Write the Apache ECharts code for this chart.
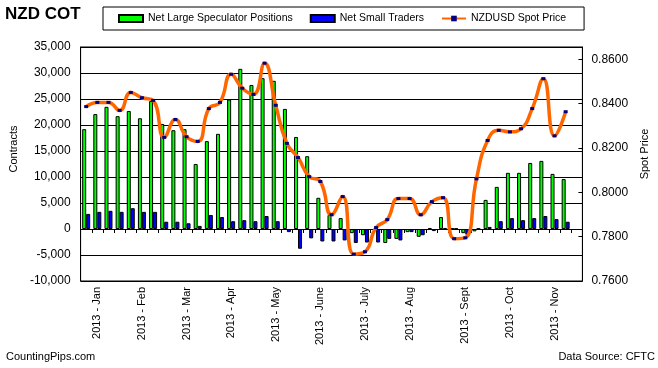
<!DOCTYPE html>
<html>
<head>
<meta charset="utf-8">
<script src="https://cdn.jsdelivr.net/npm/echarts@6/dist/echarts.min.js"></script>
<style>
html,body{margin:0;padding:0;background:#fff;}
#chart{width:658px;height:368px;}
</style>
</head>
<body>
<div id="chart"></div>
<script>
// Week categories (blank except where a month label is shown)
const weekLabels = [
  '', '2013 - Jan', '', '', '', '2013 - Feb', '', '', '', '2013 - Mar',
  '', '', '', '2013 - Apr', '', '', '', '2013 - May', '', '',
  '', '2013 - June', '', '', '', '2013 - July', '', '', '', '2013 - Aug',
  '', '', '', '', '2013 - Sept', '', '', '', '2013 - Oct', '',
  '', '', '2013 - Nov', '', ''
];
const largeSpec = [
  19200, 22100, 23500, 21700, 22700, 21300, 24600, 20200, 19000, 19200,
  12500, 16900, 18300, 24900, 30800, 27700, 29000, 28500, 23100, 17700,
  14000, 6000, 2700, 2100, -800, -1200, -200, -2700, -1900, -600,
  -1500, 200, 2300, 150, -800, -450, 5600, 8100, 10800, 10800,
  12700, 13100, 10600, 9600, null
];
const smallTraders = [
  2900, 3300, 3500, 3300, 4000, 3300, 3300, 1400, 1400, 1100,
  600, 2700, 2300, 1500, 1700, 1500, 2500, 1500, -600, -3800,
  -1800, -2400, -2400, -2200, -2700, -2600, -2600, -1900, -2200, -600,
  -1200, -400, 200, 100, -1100, 100, 400, 1500, 2100, 1700,
  2100, 2500, 1900, 1400, null
];
const spotPrice = [
  0.8387, 0.8406, 0.8406, 0.8370, 0.8451, 0.8427, 0.8415, 0.8248, 0.8329, 0.8251,
  0.8230, 0.8378, 0.8406, 0.8533, 0.8470, 0.8442, 0.8583, 0.8393, 0.8221, 0.8157,
  0.8071, 0.8049, 0.7899, 0.7981, 0.7721, 0.7732, 0.7841, 0.7877, 0.7972, 0.7972,
  0.7899, 0.7958, 0.7976, 0.7791, 0.7795, 0.8061, 0.8234, 0.8280, 0.8273, 0.8287,
  0.8378, 0.8513, 0.8255, 0.8364, null
];
const seriesNames = ['Net Large Speculator Positions', 'Net Small Traders', 'NZDUSD Spot Price'];

const FONT = "'Liberation Sans', Arial, sans-serif";
const chart = echarts.init(document.getElementById('chart'), null, {renderer: 'canvas'});
chart.setOption({
  animation: false,
  backgroundColor: '#fff',
  textStyle: {fontFamily: FONT, color: '#000'},
  title: [
    {text: 'NZD COT', left: 5, top: 6, padding: 0,
     textStyle: {fontFamily: FONT, fontSize: 17, fontWeight: 'bold', color: '#000'}},
    {text: 'CountingPips.com', left: 6, top: 351, padding: 0,
     textStyle: {fontFamily: FONT, fontSize: 11, fontWeight: 'normal', color: '#000'}},
    {text: 'Data Source: CFTC', right: 3, top: 351, padding: 0,
     textStyle: {fontFamily: FONT, fontSize: 11, fontWeight: 'normal', color: '#000'}}
  ],
  legend: {
    left: 103, top: 7,
    padding: [6, 18, 6, 15],
    itemGap: 17,
    itemWidth: 24, itemHeight: 7,
    borderColor: '#000', borderWidth: 1,
    selectedMode: false,
    textStyle: {fontFamily: FONT, fontSize: 10.5, color: '#000'},
    data: [
      {name: seriesNames[0], icon: 'rect'},
      {name: seriesNames[1], icon: 'rect'},
      {name: seriesNames[2]}
    ]
  },
  grid: {
    left: 63, right: 68, top: 47, bottom: 87,
    show: true, borderColor: '#000', borderWidth: 1, backgroundColor: 'transparent'
  },
  xAxis: [
    {
      type: 'category', data: weekLabels, position: 'bottom',
      axisLine: {onZero: true, lineStyle: {color: '#000', width: 1}},
      axisTick: {show: true, interval: 0, length: 4, lineStyle: {color: '#000'}},
      axisLabel: {show: false},
      splitLine: {show: false}
    },
    {
      type: 'category', data: weekLabels, position: 'bottom',
      axisLine: {show: false, onZero: false},
      axisTick: {show: false},
      axisLabel: {show: true, interval: 0, rotate: 90, margin: 6,
                  fontFamily: FONT, fontSize: 11, color: '#000'},
      splitLine: {show: false}
    }
  ],
  yAxis: [
    {
      type: 'value', position: 'left', min: -10000, max: 35000, interval: 5000,
      name: 'Contracts', nameLocation: 'middle', nameGap: 53, nameRotate: 90,
      nameTextStyle: {fontFamily: FONT, fontSize: 11, color: '#000', padding: [0, 0, 0, 30]},
      axisLine: {show: true, lineStyle: {color: '#000'}},
      axisTick: {show: false},
      axisLabel: {fontFamily: FONT, fontSize: 12, color: '#000', margin: 10},
      splitLine: {show: true, lineStyle: {color: '#000', width: 1}}
    },
    {
      type: 'value', position: 'right', min: 0.76, max: 0.8656, interval: 0.02,
      name: 'Spot Price', nameLocation: 'middle', nameGap: 56, nameRotate: 90,
      nameTextStyle: {fontFamily: FONT, fontSize: 11, color: '#000', padding: [0, 0, 0, 20]},
      axisLine: {show: true, lineStyle: {color: '#000'}},
      axisTick: {show: true, inside: true, length: 4, lineStyle: {color: '#000'}},
      axisLabel: {fontFamily: FONT, fontSize: 12, color: '#000', margin: 9,
        formatter: function (v) {
          return Math.abs(v * 50 - Math.round(v * 50)) < 1e-6 ? v.toFixed(4) : '';
        }},
      splitLine: {show: false}
    }
  ],
  series: [
    {
      name: seriesNames[0], type: 'bar', xAxisIndex: 0, yAxisIndex: 0,
      data: largeSpec, barWidth: 4, barGap: '0%',
      itemStyle: {color: '#00FF00', borderColor: '#000', borderWidth: 1}
    },
    {
      name: seriesNames[1], type: 'bar', xAxisIndex: 0, yAxisIndex: 0,
      data: smallTraders, barWidth: 4, barGap: '0%',
      itemStyle: {color: '#0000FF', borderColor: '#000', borderWidth: 1}
    },
    {
      name: seriesNames[2], type: 'line', xAxisIndex: 0, yAxisIndex: 1,
      data: spotPrice, smooth: 0.5, z: 5,
      symbol: 'rect', symbolSize: [4, 3], showSymbol: true,
      lineStyle: {color: '#FF6600', width: 3.5},
      itemStyle: {color: '#000080', borderWidth: 0}
    }
  ]
});
</script>
</body>
</html>
